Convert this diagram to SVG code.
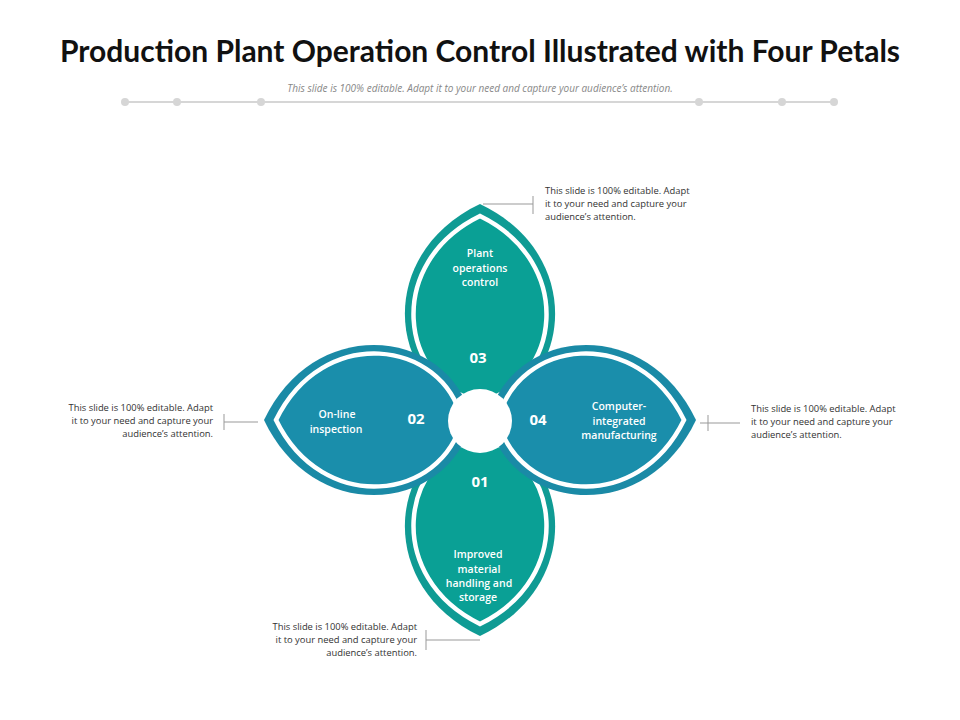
<svg xmlns="http://www.w3.org/2000/svg" width="960" height="720" viewBox="0 0 960 720">
<style>
.t{font-family:"Open Sans","Liberation Sans",sans-serif;fill:#fff;font-weight:600;font-size:10.5px;text-anchor:middle}
.n{font-family:"Open Sans","Liberation Sans",sans-serif;fill:#fff;font-weight:700;font-size:15px;text-anchor:middle}
.c{font-family:"Open Sans","Liberation Sans",sans-serif;fill:#333;font-size:9.4px}
.ln{stroke:#999;stroke-width:1;fill:none}
.iw{stroke:#fff;stroke-width:4.5}
</style>
<defs>
<path id="po" d="M0,-216 C -108,-165 -92,-30 0,-8 C 92,-30 108,-165 0,-216Z"/>
<path id="pi" d="M0,-204 C -96,-157 -81,-38 0,-18 C 81,-38 96,-157 0,-204Z"/>
</defs>
<rect width="960" height="720" fill="#fff"/>
<text x="480" y="62" text-anchor="middle" font-family="Lato,'Open Sans','Liberation Sans',sans-serif" font-weight="700" font-size="30" fill="#111">Production Plant Operation Control Illustrated with Four Petals</text>
<text x="480" y="92" text-anchor="middle" font-family="'Open Sans','Liberation Sans',sans-serif" font-style="italic" font-size="10" fill="#888">This slide is 100% editable. Adapt it to your need and capture your audience’s attention.</text>
<g fill="#d6d6d6">
<line x1="125" y1="102" x2="834" y2="102" stroke="#d6d6d6" stroke-width="2"/>
<circle cx="125" cy="102" r="4"/><circle cx="177" cy="102" r="4"/><circle cx="261" cy="102" r="4"/><circle cx="699" cy="102" r="4"/><circle cx="782" cy="102" r="4"/><circle cx="834" cy="102" r="4"/>
</g>
<g id="petal-top" transform="translate(480,420)">
<use href="#po" fill="#0f9b94"/><use href="#pi" fill="#0aa095" class="iw"/>
</g>
<g id="petal-bottom" transform="translate(480,420) rotate(180)">
<use href="#po" fill="#0f9b94"/><use href="#pi" fill="#0aa095" class="iw"/>
</g>
<g id="petal-left" transform="translate(480,420) rotate(-90)">
<use href="#po" fill="#1a8aa6"/><use href="#pi" fill="#1a8eab" class="iw"/>
</g>
<g id="petal-right" transform="translate(480,420) rotate(90)">
<use href="#po" fill="#1a8aa6"/><use href="#pi" fill="#1a8eab" class="iw"/>
</g>
<circle id="center" cx="480" cy="421" r="32" fill="#fff"/>
<g id="labels">
<text class="t" x="480" y="257">Plant</text><text class="t" x="480" y="272">operations</text><text class="t" x="480" y="286">control</text>
<text class="n" x="478" y="363">03</text>
<text class="t" x="337" y="418">On-line</text><text class="t" x="336" y="433">inspection</text>
<text class="n" x="416" y="424">02</text>
<text class="n" x="538" y="425">04</text>
<text class="t" x="619" y="410">Computer-</text><text class="t" x="619" y="425">integrated</text><text class="t" x="619" y="439">manufacturing</text>
<text class="n" x="480" y="487">01</text>
<text class="t" x="478" y="558">Improved</text><text class="t" x="479" y="573">material</text><text class="t" x="479" y="587">handling and</text><text class="t" x="478" y="601">storage</text>
</g>
<g id="connectors">
<path class="ln" d="M483,204 H533 M533,196 V214"/>
<path class="ln" d="M700,423 H740 M708,415 V431"/>
<path class="ln" d="M224,422 H258 M224,414 V430"/>
<path class="ln" d="M426,640 H480 M426,630 V650"/>
</g>
<g id="callouts">
<text class="c" x="545" y="194">This slide is 100% editable. Adapt</text>
<text class="c" x="545" y="207">it to your need and capture your</text>
<text class="c" x="545" y="220">audience’s attention.</text>
<text class="c" x="751" y="412">This slide is 100% editable. Adapt</text>
<text class="c" x="751" y="425">it to your need and capture your</text>
<text class="c" x="751" y="438">audience’s attention.</text>
<g text-anchor="end">
<text class="c" x="213" y="411">This slide is 100% editable. Adapt</text>
<text class="c" x="213" y="424">it to your need and capture your</text>
<text class="c" x="213" y="437">audience’s attention.</text>
<text class="c" x="417" y="630">This slide is 100% editable. Adapt</text>
<text class="c" x="417" y="643">it to your need and capture your</text>
<text class="c" x="417" y="656">audience’s attention.</text>
</g>
</g>
</svg>
